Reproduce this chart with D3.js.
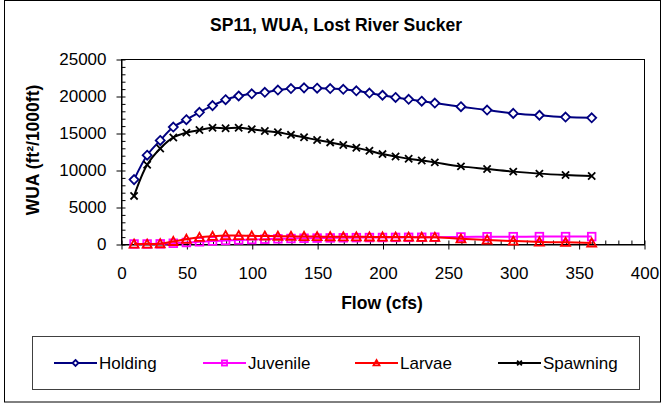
<!DOCTYPE html>
<html>
<head>
<meta charset="utf-8">
<script src="https://cdn.jsdelivr.net/npm/d3@7"></script>
<style>
  body { margin: 0; background: #fff; }
  text { font-family: "Liberation Sans", Arial, sans-serif; }
</style>
</head>
<body>
<svg id="chart"></svg>
<script>
// Flow (cfs) values sampled in the study
const flows = [10, 20, 30, 40, 50, 60, 70, 80, 90, 100, 110, 120, 130, 140, 150, 160, 170, 180, 190, 200, 210, 220, 230, 240, 260, 280, 300, 320, 340, 360];

// WUA per life stage
const holding = [8700, 12000, 14000, 15800, 16800, 17800, 18700, 19500, 20000, 20300, 20500, 20800, 21000, 21100, 21050, 21000, 20900, 20700, 20400, 20100, 19800, 19550, 19300, 19050, 18550, 18100, 17650, 17400, 17150, 17050];
const juvenile = [0, 0, 20, 100, 200, 300, 400, 480, 550, 600, 650, 700, 740, 780, 800, 820, 840, 860, 870, 880, 890, 900, 910, 920, 950, 980, 990, 1000, 1000, 1000];
const larvae = [0, 0, 50, 350, 650, 900, 1050, 1150, 1150, 1100, 1080, 1060, 1040, 1020, 1000, 990, 980, 970, 960, 950, 940, 930, 920, 910, 700, 550, 400, 280, 230, 150];
const spawning = [6500, 10700, 12900, 14400, 15050, 15400, 15700, 15650, 15700, 15500, 15270, 15100, 14750, 14420, 14050, 13730, 13380, 13000, 12600, 12150, 11830, 11520, 11290, 11030, 10490, 10130, 9780, 9510, 9330, 9200];

const seriesNames = ["Holding", "Juvenile", "Larvae", "Spawning"];
const xTicks = [0, 50, 100, 150, 200, 250, 300, 350, 400];
const yTicks = [0, 5000, 10000, 15000, 20000, 25000];

const width = 662;
const height = 405;

const svg = d3.select("#chart")
  .attr("width", width)
  .attr("height", height);

// outer chart frame
svg.append("rect")
  .attr("x", 4.5).attr("y", 0.5)
  .attr("width", 656).attr("height", 401.5)
  .attr("fill", "#fff")
  .attr("stroke", "#000");

const x = d3.scaleLinear().domain([0, 400]).range([121, 644]);
const y = d3.scaleLinear().domain([0, 25000]).range([244, 59]);

// plot area border
svg.append("rect")
  .attr("x", x(0) + 0.5).attr("y", y(25000) + 0.5)
  .attr("width", x(400) - x(0)).attr("height", y(0) - y(25000))
  .attr("fill", "none")
  .attr("stroke", "#000");

// minor ticks pointing into the plot
svg.append("g")
  .attr("transform", `translate(0.5,${y(0) + 0.5})`)
  .call(d3.axisTop(x).tickValues(d3.range(0, 401, 10)).tickSize(4).tickFormat(""))
  .call(g => g.select(".domain").remove());

svg.append("g")
  .attr("transform", `translate(${x(0) + 0.5},0.5)`)
  .call(d3.axisRight(y).tickValues(d3.range(0, 25001, 1000)).tickSize(4).tickFormat(""))
  .call(g => g.select(".domain").remove());

// major axes with labels
const xAxis = svg.append("g")
  .attr("transform", `translate(0.5,${y(0) + 0.5})`)
  .call(d3.axisBottom(x).tickValues(xTicks).tickSize(5).tickSizeOuter(0).tickPadding(17).tickFormat(d3.format("d")));
xAxis.selectAll("text").attr("font-size", 17).attr("fill", "#000")
  .style("font-family", '"Liberation Sans", Arial, sans-serif');

const yAxis = svg.append("g")
  .attr("transform", `translate(${x(0) + 0.5},0.5)`)
  .call(d3.axisLeft(y).tickValues(yTicks).tickSize(5).tickSizeOuter(0).tickPadding(10).tickFormat(d3.format("d")));
yAxis.selectAll("text").attr("font-size", 17).attr("fill", "#000")
  .style("font-family", '"Liberation Sans", Arial, sans-serif');

// titles
svg.append("text")
  .attr("x", 336).attr("y", 31)
  .attr("text-anchor", "middle")
  .attr("font-size", 17.5).attr("font-weight", "bold")
  .text("SP11, WUA, Lost River Sucker");

svg.append("text")
  .attr("x", 382).attr("y", 309)
  .attr("text-anchor", "middle")
  .attr("font-size", 17.5).attr("font-weight", "bold")
  .text("Flow (cfs)");

svg.append("text")
  .attr("transform", "translate(39,150) rotate(-90)")
  .attr("text-anchor", "middle")
  .attr("font-size", 17.5).attr("font-weight", "bold")
  .text("WUA (ft²/1000ft)");

// series
const series = [
  { name: "Holding", values: holding, color: "#000080", marker: "diamond" },
  { name: "Juvenile", values: juvenile, color: "#ff00ff", marker: "square" },
  { name: "Larvae", values: larvae, color: "#ff0000", marker: "triangle" },
  { name: "Spawning", values: spawning, color: "#000000", marker: "cross" }
];

const line = d3.line()
  .x(d => x(d[0]))
  .y(d => y(d[1]))
  .curve(d3.curveCatmullRom.alpha(0.5));

function drawMarker(g, type, color, s) {
  if (type === "diamond") {
    g.append("path")
      .attr("d", `M0,${-s}L${s},0L0,${s}L${-s},0Z`)
      .attr("fill", "#fff").attr("stroke", color).attr("stroke-width", 1.8);
  } else if (type === "square") {
    g.append("rect")
      .attr("x", -s * 0.85).attr("y", -s * 0.85)
      .attr("width", s * 1.7).attr("height", s * 1.7)
      .attr("fill", "none").attr("stroke", color).attr("stroke-width", 1.8);
  } else if (type === "triangle") {
    g.append("path")
      .attr("d", `M0,${-s}L${s},${s * 0.8}L${-s},${s * 0.8}Z`)
      .attr("fill", "none").attr("stroke", color).attr("stroke-width", 1.8);
  } else {
    const c = s * 0.8;
    g.append("path")
      .attr("d", `M${-c},${-c}L${c},${c}M${-c},${c}L${c},${-c}`)
      .attr("stroke", color).attr("stroke-width", 1.8);
  }
}

series.forEach(s => {
  const pts = flows.map((f, i) => [f, s.values[i]]);
  svg.append("path")
    .datum(pts)
    .attr("d", line)
    .attr("fill", "none")
    .attr("stroke", s.color)
    .attr("stroke-width", 2);

  pts.forEach(p => {
    const g = svg.append("g").attr("transform", `translate(${x(p[0])},${y(p[1])})`);
    drawMarker(g, s.marker, s.color, 4.5);
  });
});

// legend
svg.append("rect")
  .attr("x", 32.5).attr("y", 336.5)
  .attr("width", 607).attr("height", 53)
  .attr("fill", "#fff")
  .attr("stroke", "#404040");

const legendX = [54, 203, 355, 498];
series.forEach((s, i) => {
  const g = svg.append("g").attr("transform", `translate(${legendX[i]},363)`);
  g.append("line")
    .attr("x1", 0).attr("x2", 43)
    .attr("stroke", s.color).attr("stroke-width", 2);
  drawMarker(g.append("g").attr("transform", "translate(21.5,0)"), s.marker, s.color, 3);
  g.append("text")
    .attr("x", 45).attr("y", 6)
    .attr("font-size", 17)
    .text(s.name);
});
</script>
</body>
</html>
